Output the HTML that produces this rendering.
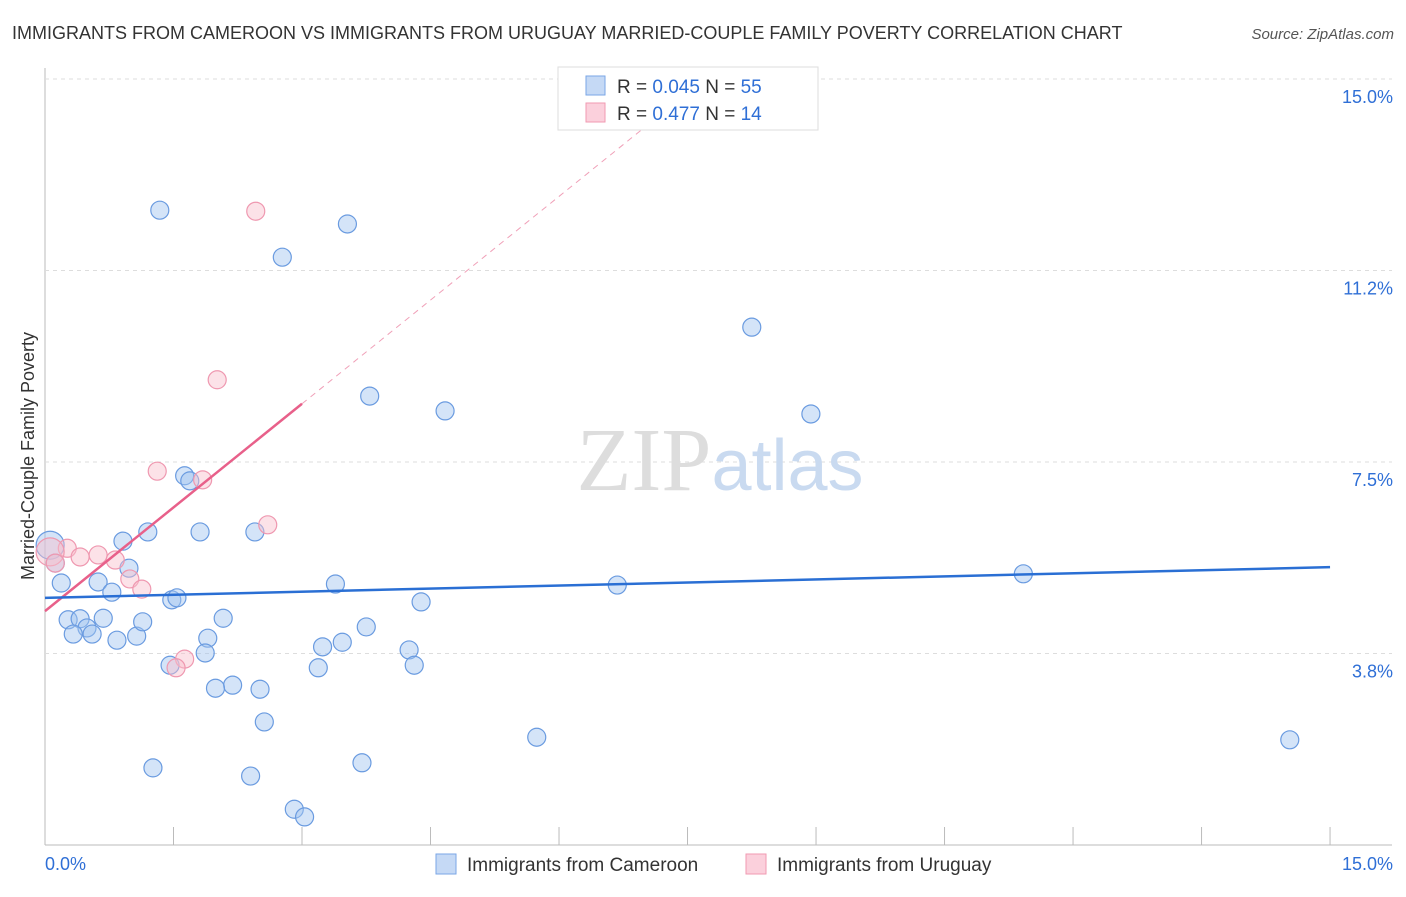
<!DOCTYPE html>
<html><head><meta charset="utf-8"><style>
body{margin:0;background:#fff;font-family:"Liberation Sans",sans-serif;}
</style></head><body>
<svg width="1406" height="892" viewBox="0 0 1406 892" xmlns="http://www.w3.org/2000/svg" font-family="Liberation Sans, sans-serif">
<text x="12" y="39" font-size="18" fill="#333">IMMIGRANTS FROM CAMEROON VS IMMIGRANTS FROM URUGUAY MARRIED-COUPLE FAMILY POVERTY CORRELATION CHART</text>
<text x="1394" y="39" font-size="15" fill="#555" font-style="italic" text-anchor="end">Source: ZipAtlas.com</text>
<g id="grid"></g>
<text x="720" y="490" font-size="90" text-anchor="middle" fill="#ddd" font-family="Liberation Serif, serif">ZIP<tspan fill="#c9daf0" font-family="Liberation Sans, sans-serif" font-size="72">atlas</tspan></text>
<g id="marks"></g>
<text transform="translate(34,456) rotate(-90)" font-size="18" fill="#333" text-anchor="middle">Married-Couple Family Poverty</text>
<g>
<rect x="558" y="67" width="260" height="63" fill="#fff" stroke="#ddd"/>
<rect x="586" y="76" width="19" height="19" fill="#c5d9f5" stroke="#7aa6e6"/>
<rect x="586" y="103" width="19" height="19" fill="#fbd0dc" stroke="#f09ab2"/>
<text x="617" y="93" font-size="19" fill="#333">R = <tspan fill="#2f6fd6">0.045</tspan>   N = <tspan fill="#2f6fd6">55</tspan></text>
<text x="617" y="120" font-size="19" fill="#333">R = <tspan fill="#2f6fd6"> 0.477</tspan>   N = <tspan fill="#2f6fd6"> 14</tspan></text>
</g>
<g>
<rect x="436" y="854" width="20" height="20" fill="#c5d9f5" stroke="#7aa6e6"/>
<text x="467" y="871" font-size="19" fill="#333">Immigrants from Cameroon</text>
<rect x="746" y="854" width="20" height="20" fill="#fbd0dc" stroke="#f09ab2"/>
<text x="777" y="871" font-size="19" fill="#333">Immigrants from Uruguay</text>
</g>
</svg>
<script>
const yTicks=[3.75,7.5,11.25,15];
const yTickLabels=["3.8%","7.5%","11.2%","15.0%"];
const xTicks=[0,1.5,3,4.5,6,7.5,9,10.5,12,13.5,15];
const blueX=[1.34,3.53,2.77,8.25,3.79,4.67,8.94,1.63,1.69,1.81,2.45,1.20,0.91,0.98,0.62,0.19,3.39,6.68,11.42,0.78,1.48,1.54,4.39,0.27,0.41,0.68,0.49,0.55,0.33,0.84,1.07,1.14,2.08,1.90,3.75,3.47,3.24,4.25,1.87,1.46,4.31,3.19,2.19,1.99,2.51,2.56,5.74,14.53,1.26,3.70,2.40,2.91,3.03,0.06,0.12];
const blueY=[12.43,12.16,11.51,10.14,8.79,8.50,8.44,7.23,7.13,6.13,6.13,6.13,5.95,5.42,5.15,5.13,5.11,5.09,5.31,4.95,4.80,4.84,4.76,4.41,4.43,4.44,4.25,4.13,4.13,4.01,4.09,4.37,4.44,4.05,4.27,3.97,3.88,3.82,3.76,3.52,3.52,3.47,3.13,3.07,3.05,2.41,2.11,2.06,1.51,1.61,1.35,0.70,0.55,5.87,5.52];
const pinkX=[2.46,2.01,1.31,1.84,2.60,0.26,0.62,0.41,0.82,0.99,1.13,1.63,1.53,0.06,0.12];
const pinkY=[12.41,9.11,7.32,7.15,6.27,5.81,5.68,5.64,5.58,5.21,5.01,3.64,3.47,5.74,5.52];
const blueLine=[4.84,5.44];
const pinkLine=[4.58,8.64];
const NS="http://www.w3.org/2000/svg";
const X=v=>45+v*85.67, Y=v=>845-v*51.07;
function mk(t,a,p){const e=document.createElementNS(NS,t);for(const k in a)e.setAttribute(k,a[k]);p.appendChild(e);return e;}
const g=document.getElementById('grid'), m=document.getElementById('marks');
mk('line',{x1:45,y1:68,x2:45,y2:845,stroke:'#bbb'},g);
mk('line',{x1:45,y1:845,x2:1392,y2:845,stroke:'#bbb'},g);
yTicks.forEach((t,i)=>{const l=mk('line',{x1:45,x2:1392,y1:Y(t),y2:Y(t),stroke:'#ddd','stroke-dasharray':'4,4'},g);

const tx=mk('text',{x:1393,y:Y(t)+24,'font-size':18,fill:'#2f6fd6','text-anchor':'end'},g);tx.textContent=yTickLabels[i];
});
xTicks.forEach(t=>{const l=mk('line',{x1:X(t),x2:X(t),y1:827,y2:845,stroke:'#bbb'},g);
});
let a=mk('text',{x:45,y:870,'font-size':18,fill:'#2f6fd6'},g);a.textContent='0.0%';

a=mk('text',{x:1393,y:870,'font-size':18,fill:'#2f6fd6','text-anchor':'end'},g);a.textContent='15.0%';

blueX.forEach((v,i)=>{const c=mk('circle',{cx:X(v),cy:Y(blueY[i]),r:i==53?14:9,fill:'rgba(160,195,240,0.45)',stroke:'#6a9be0','stroke-width':1.2},m);
});
pinkX.forEach((v,i)=>{const c=mk('circle',{cx:X(v),cy:Y(pinkY[i]),r:i==13?14:9,fill:'rgba(248,190,205,0.45)',stroke:'#ef98b0','stroke-width':1.2},m);
});
const slope=(pinkLine[1]-pinkLine[0])/3, xEnd=(15-pinkLine[0])/slope;
let l=mk('line',{x1:X(3),y1:Y(pinkLine[1]),x2:X(xEnd),y2:Y(15),stroke:'#f0a0b8','stroke-width':1,'stroke-dasharray':'6,5'},m);

l=mk('line',{x1:X(0),y1:Y(pinkLine[0]),x2:X(3),y2:Y(pinkLine[1]),stroke:'#e8608a','stroke-width':2.5},m);

l=mk('line',{x1:X(0),y1:Y(blueLine[0]),x2:X(15),y2:Y(blueLine[1]),stroke:'#2a6fd4','stroke-width':2.5},m);

</script>
</body></html>
